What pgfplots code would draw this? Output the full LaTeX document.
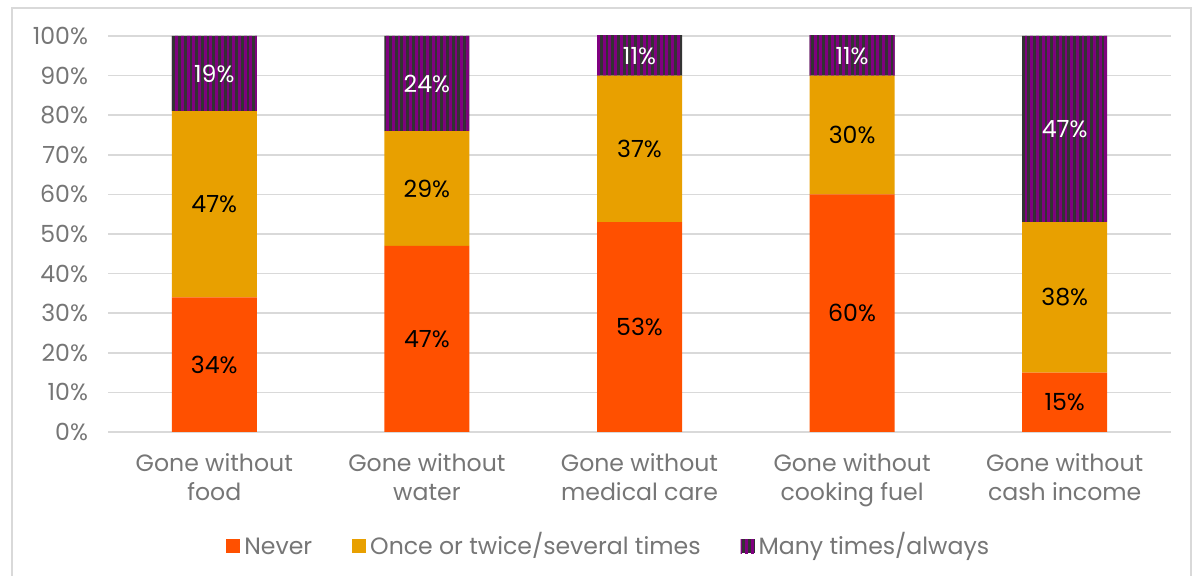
\documentclass[border=0pt]{standalone}
\usepackage{fontspec}
\setmainfont{Poppins}
\usepackage{pgfplots}
\pgfplotsset{compat=1.18}
\usetikzlibrary{patterns.meta}
\definecolor{cnever}{RGB}{255,80,0}
\definecolor{conce}{RGB}{232,160,0}
\definecolor{cpurple}{RGB}{128,0,128}
\definecolor{cdark}{RGB}{51,51,51}
\definecolor{ctext}{RGB}{118,118,118}
\definecolor{cgrid}{RGB}{217,217,217}
\pgfplotsset{sqlegend/.style={legend image code/.code={\fill[##1] (0pt,-2pt) rectangle (7pt,5pt);}}}
\begin{document}
\begin{tikzpicture}
\useasboundingbox (0pt,0pt) rectangle (596pt,288pt);
\draw[cgrid, line width=0.75pt] (6pt,-5pt) rectangle (595.5pt,284pt);
\begin{axis}[
  at={(54pt,72pt)}, anchor=south west, scale only axis,
  width=531.5pt, height=198pt,
  ybar stacked, bar width=42.5pt,
  xmin=-0.5, xmax=4.5, ymin=0, ymax=100,
  axis line style={draw=none}, major tick length=0pt,
  ytick={0,10,...,100},
  yticklabels={0\%,10\%,20\%,30\%,40\%,50\%,60\%,70\%,80\%,90\%,100\%},
  yticklabel style={font=\fontsize{11.8}{13}\selectfont, text=ctext, xshift=-6.5pt},
  xtick={0,1,2,3,4},
  xticklabels={{Gone without\\food},{Gone without\\water},{Gone without\\medical care},{Gone without\\cooking fuel},{Gone without\\cash income}},
  xticklabel style={font=\fontsize{11.8}{14.5}\selectfont, text=ctext, align=center, yshift=-7pt},
  ymajorgrids, grid style={cgrid, line width=0.75pt},
  legend style={at={(0.472,-0.296)}, anchor=center, draw=none, legend columns=3,
    font=\fontsize{11.8}{13}\selectfont, text=ctext,
    nodes={text depth=0.25em, text height=0.75em},
    /tikz/every even column/.append style={column sep=18pt}},
]
\addplot[fill=cnever, draw=none, sqlegend] coordinates {(0,34)(1,47)(2,53)(3,60)(4,15)};
\addlegendentry{Never}
\addplot[fill=conce, draw=none, sqlegend] coordinates {(0,47)(1,29)(2,37)(3,30)(4,38)};
\addlegendentry{Once or twice/several times}
\addplot[fill=cdark, draw=none, postaction={pattern={Lines[angle=90,distance=2.85pt,line width=1.42pt]}, pattern color=cpurple}, sqlegend] coordinates {(0,19)(1,24)(2,11)(3,11)(4,47)};
\addlegendentry{Many times/always}
\end{axis}
\begin{axis}[
  at={(54pt,72pt)}, anchor=south west, scale only axis,
  width=531.5pt, height=198pt,
  xmin=-0.5, xmax=4.5, ymin=0, ymax=100, hide axis,
  nodes near coords, point meta=explicit symbolic,
  every node near coord/.append style={anchor=center, font=\fontsize{11.8}{13}\selectfont},
]
\addplot[draw=none, mark=none, nodes near coords style={text=black}] coordinates {
  (0,17)[34\%] (1,23.5)[47\%] (2,26.5)[53\%] (3,30)[60\%] (4,7.5)[15\%]
  (0,57.5)[47\%] (1,61.5)[29\%] (2,71.5)[37\%] (3,75)[30\%] (4,34)[38\%]};
\addplot[draw=none, mark=none, nodes near coords style={text=white}] coordinates {
  (0,90.5)[19\%] (1,88)[24\%] (2,95)[11\%] (3,95)[11\%] (4,76.5)[47\%]};
\end{axis}
\end{tikzpicture}
\end{document}
